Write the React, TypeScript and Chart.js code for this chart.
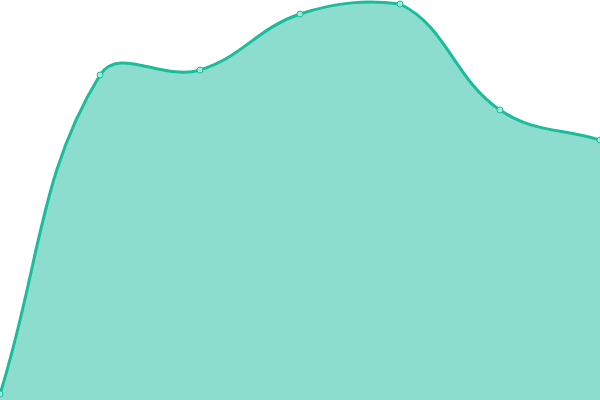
import { useEffect, useRef } from 'react';
import { Chart } from 'chart.js/auto';

const labels = ['1', '2', '3', '4', '5', '6', '7'];
const values = [1.5, 81.25, 82.5, 96.5, 99, 72.5, 65];

function App() {
	const chartRef = useRef<HTMLCanvasElement | null>(null);

	useEffect(() => {
		if (!chartRef.current) {
			return undefined;
		}
		const chart = new Chart(chartRef.current, {
			type: 'line',
			data: {
				labels: labels,
				datasets: [
					{
						data: values,
						borderColor: '#1abc9c',
						backgroundColor: 'rgba(26, 188, 156, 0.5)',
						borderWidth: 3,
						fill: 'origin',
						tension: 0.4,
						pointRadius: 3,
						pointBorderWidth: 1,
						pointBackgroundColor: '#a3e9db',
						pointBorderColor: '#1abc9c',
					},
				],
			},
			options: {
				responsive: false,
				animation: false,
				layout: { padding: 0, autoPadding: false },
				plugins: {
					legend: { display: false },
					tooltip: { enabled: false },
				},
				scales: {
					x: { display: false },
					y: { display: false, min: 0, max: 100 },
				},
			},
		});

		return () => {
			chart.destroy();
		};
	}, []);

	return (
		<div style={{ position: 'fixed', left: 0, top: 0, width: 600, height: 400, background: '#fff' }}>
			<canvas ref={chartRef} width={600} height={400}></canvas>
		</div>
	);
}

export default App;
